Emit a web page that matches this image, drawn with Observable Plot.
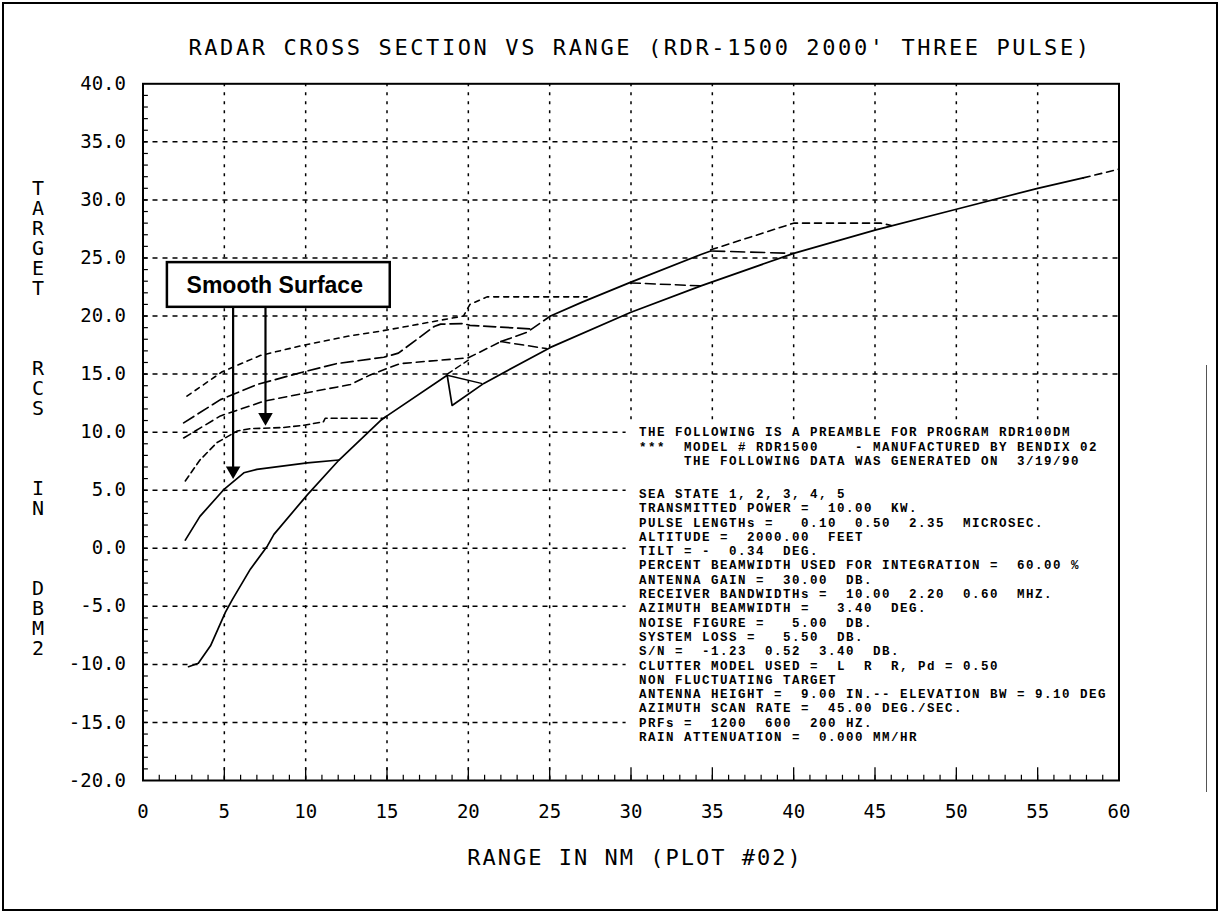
<!DOCTYPE html>
<html>
<head>
<meta charset="utf-8">
<script src="https://cdn.jsdelivr.net/npm/d3@7"></script>
<script src="https://cdn.jsdelivr.net/npm/@observablehq/plot@0.6"></script>
<style>
html,body{margin:0;padding:0;background:#fff;}
#page{position:relative;width:1220px;height:913px;overflow:hidden;background:#fff;}
#chart{position:absolute;left:0;top:0;}
#border{position:absolute;left:2px;top:2px;width:1216px;height:909px;border:2px solid #000;box-sizing:border-box;pointer-events:none;}
#scanline{position:absolute;left:1206px;top:365px;width:1px;height:427px;background:#555;}
.lbl{position:absolute;font-family:"DejaVu Sans Mono",monospace;color:#000;white-space:pre;}
#title{left:140px;width:1000px;top:35px;text-align:center;font-size:22px;letter-spacing:2.6px;}
#xlabel{left:335px;width:600px;top:845px;text-align:center;font-size:22px;letter-spacing:2px;}
#ylabel{left:28px;top:178px;width:20px;text-align:center;font-size:20px;line-height:20px;}
svg text{white-space:pre;}
.preamble text, .preamble tspan{letter-spacing:1.5px;}
</style>
</head>
<body>
<div id="page">
  <div id="chart"></div>
  <div id="title" class="lbl"></div>
  <div id="xlabel" class="lbl"></div>
  <div id="ylabel" class="lbl"></div>
  <div id="scanline"></div>
  <div id="border"></div>
</div>
<script>
// ---------- texts ----------
const titleText = "RADAR CROSS SECTION VS RANGE (RDR-1500 2000' THREE PULSE)";
const xTitle = "RANGE IN NM (PLOT #02)";
const yTitleWords = ["TARGET", "RCS", "IN", "DBM2"];
const annotationText = "Smooth Surface";
const preambleHead = [
  "THE FOLLOWING IS A PREAMBLE FOR PROGRAM RDR100DM",
  "***  MODEL # RDR1500    - MANUFACTURED BY BENDIX 02",
  "     THE FOLLOWING DATA WAS GENERATED ON  3/19/90"
];
const preambleBody = [
  "SEA STATE 1, 2, 3, 4, 5",
  "TRANSMITTED POWER =  10.00  KW.",
  "PULSE LENGTHs =   0.10  0.50  2.35  MICROSEC.",
  "ALTITUDE =  2000.00  FEET",
  "TILT = -  0.34  DEG.",
  "PERCENT BEAMWIDTH USED FOR INTEGRATION =  60.00 %",
  "ANTENNA GAIN =  30.00  DB.",
  "RECEIVER BANDWIDTHs =  10.00  2.20  0.60  MHZ.",
  "AZIMUTH BEAMWIDTH =   3.40  DEG.",
  "NOISE FIGURE =   5.00  DB.",
  "SYSTEM LOSS =   5.50  DB.",
  "S/N =  -1.23  0.52  3.40  DB.",
  "CLUTTER MODEL USED =  L  R  R, Pd = 0.50",
  "NON FLUCTUATING TARGET",
  "ANTENNA HEIGHT =  9.00 IN.-- ELEVATION BW = 9.10 DEG",
  "AZIMUTH SCAN RATE =  45.00 DEG./SEC.",
  "PRFs =  1200  600  200 HZ.",
  "RAIN ATTENUATION =  0.000 MM/HR"
];

// ---------- ticks ----------
const xTicks = [0, 5, 10, 15, 20, 25, 30, 35, 40, 45, 50, 55, 60];
const yTicks = [-20, -15, -10, -5, 0, 5, 10, 15, 20, 25, 30, 35, 40];

// ---------- curve values (range NM, RCS dBm2) ----------
const rangeA = [2.8, 3.4, 4.15, 5.07, 5.5, 6.6, 7.65, 8.05, 10.1, 12.05, 14.6, 15.0, 18.7, 19.0, 20.95, 25.05, 29.96, 34.3, 40.0, 45.0, 50.0, 55.0, 57.8];
const rcsA   = [-10.2, -9.9, -8.4, -5.5, -4.4, -1.8, 0.2, 1.2, 4.6, 7.6, 11.0, 11.4, 14.9, 12.3, 14.2, 17.3, 20.3, 22.6, 25.4, 27.4, 29.2, 31.0, 31.9];
const rangeATail = [57.8, 60.0];
const rcsATail   = [31.9, 32.65];
const rangeB = [2.6, 3.5, 5.0, 6.2, 7.0, 10.1, 12.05];
const rcsB   = [0.7, 2.75, 5.1, 6.5, 6.8, 7.35, 7.6];
const rangeC = [2.6, 3.5, 4.55, 5.8, 6.6, 8.65, 9.9, 11.1, 11.2, 14.8, 15.0];
const rcsC   = [5.8, 7.6, 9.1, 10.1, 10.3, 10.4, 10.6, 10.9, 11.2, 11.2, 11.4];
const rangeE = [2.7, 4.87, 7.2, 9.9, 12.75, 14.6, 15.8, 19.7, 20.1, 21.15, 27.3];
const rcsE   = [13.1, 15.2, 16.6, 17.5, 18.3, 18.7, 19.0, 20.0, 21.0, 21.65, 21.65];
const rangeF = [2.5, 4.76, 7.0, 9.9, 11.9, 14.8, 15.7, 17.9, 18.3, 19.7, 20.1, 23.8];
const rcsF   = [10.8, 12.8, 14.1, 15.2, 15.9, 16.45, 16.8, 19.1, 19.3, 19.35, 19.2, 18.9];
const rangeH = [2.5, 4.76, 7.4, 9.9, 12.75, 14.0, 15.8, 18.3, 20.0, 22.0];
const rcsH   = [9.5, 11.4, 12.65, 13.35, 14.1, 14.95, 15.9, 16.2, 16.4, 17.8];
const rangeHDrop = [22.0, 24.8];
const rcsHDrop   = [17.8, 17.2];
const rangeGDash = [22.0, 23.6, 25.05];
const rcsGDash   = [17.8, 18.6, 20.0];
const rangeG = [25.05, 27.0, 29.96, 34.3, 34.9];
const rcsG   = [20.0, 21.2, 22.9, 25.3, 25.6];
const rangeG23 = [29.96, 34.3];
const rcsG23   = [22.85, 22.6];
const rangeG25 = [34.9, 40.0];
const rcsG25   = [25.6, 25.4];
const rangeG28 = [34.9, 40.0, 45.35, 46.0];
const rcsG28   = [25.7, 28.0, 28.0, 27.8];
const rangeTriTop = [18.7, 20.8];
const rcsTriTop   = [14.9, 14.2];
const rangeTriUp = [18.7, 20.0];
const rcsTriUp   = [15.0, 16.2];

// ---------- annotation (data coordinates) ----------
const boxRange = [1.5, 15.2];
const boxRcs = [20.75, 24.6];
const labelRange = 8.1;
const labelRcs = 22.65;
const arrowRange = [5.54, 7.53];
const arrowTipRcs = [6.0, 10.6];
const preambleArea = {x1: 29.7, x2: 60, y1: -20, y2: 11.0};

// ---------- styles (kept separate from values) ----------
const curveDefs = [
  {r: rangeA, v: rcsA, dash: null, w: 1.7},
  {r: rangeATail, v: rcsATail, dash: "7,5", w: 1.6},
  {r: rangeB, v: rcsB, dash: null, w: 1.7},
  {r: rangeC, v: rcsC, dash: "6,4", w: 1.6},
  {r: rangeE, v: rcsE, dash: "5,5", w: 1.6},
  {r: rangeF, v: rcsF, dash: "12,5", w: 1.7},
  {r: rangeH, v: rcsH, dash: "8,5", w: 1.6},
  {r: rangeHDrop, v: rcsHDrop, dash: "9,5", w: 1.5},
  {r: rangeGDash, v: rcsGDash, dash: "11,5", w: 1.6},
  {r: rangeG, v: rcsG, dash: null, w: 1.7},
  {r: rangeG23, v: rcsG23, dash: "10,5", w: 1.5},
  {r: rangeG25, v: rcsG25, dash: "14,6", w: 1.6},
  {r: rangeG28, v: rcsG28, dash: "7,5", w: 1.6},
  {r: rangeTriTop, v: rcsTriTop, dash: null, w: 1.5},
  {r: rangeTriUp, v: rcsTriUp, dash: "6,4", w: 1.4}
];

document.getElementById("title").textContent = titleText;
document.getElementById("xlabel").textContent = xTitle;
document.getElementById("ylabel").textContent =
  yTitleWords.map(w => w.split("").join("\n")).join("\n\n\n\n");

const gridX = xTicks.filter(d => d > xTicks[0] && d < xTicks[xTicks.length - 1]);
const gridY = yTicks.filter(d => d > yTicks[0] && d < yTicks[yTicks.length - 1]);
const minorX = d3.range(xTicks[0] + 1, xTicks[xTicks.length - 1]);
const minorY = d3.range(yTicks[0] + 1, yTicks[yTicks.length - 1]);

const toRows = (r, v) => r.map((x, i) => ({x, y: v[i]}));
const arrows = arrowRange.map((x, i) => ({x, tip: arrowTipRcs[i]}));
const preambleFont = {fontFamily: "Liberation Mono, Courier New, monospace", fontWeight: "bold", fontSize: 12.5, fill: "#000",
  textAnchor: "start", lineAnchor: "top", frameAnchor: "top-left", className: "preamble"};

const marks = [
  Plot.ruleX(gridX, {stroke: "#000", strokeWidth: 1.5, strokeDasharray: "3,6"}),
  Plot.ruleY(gridY, {stroke: "#000", strokeWidth: 1.5, strokeDasharray: "5,5"}),
  Plot.rect([preambleArea], {x1: "x1", x2: "x2", y1: "y1", y2: "y2", fill: "#fff"}),
  Plot.ruleX(minorX, {y1: -20, y2: -19.55, stroke: "#000", strokeWidth: 1.2}),
  Plot.ruleX(gridX, {y1: -20, y2: -18.9, stroke: "#000", strokeWidth: 1.3}),
  Plot.ruleY(minorY, {x1: 0, x2: 0.33, stroke: "#000", strokeWidth: 1.2}),
  ...curveDefs.map(c => Plot.line(toRows(c.r, c.v), {
    x: "x", y: "y", stroke: "#000", strokeWidth: c.w,
    strokeDasharray: c.dash == null ? undefined : c.dash
  })),
  Plot.rect([{x1: boxRange[0], x2: boxRange[1], y1: boxRcs[0], y2: boxRcs[1]}],
    {x1: "x1", x2: "x2", y1: "y1", y2: "y2", fill: "#fff", stroke: "#000", strokeWidth: 2.5}),
  Plot.text([annotationText], {x: labelRange, y: labelRcs, text: d => d,
    fontFamily: "Liberation Sans, Arial, sans-serif", fontWeight: "bold", fontSize: 23, fill: "#000"}),
  Plot.link(arrows, {x1: "x", x2: "x", y1: () => boxRcs[0], y2: d => d.tip + 1.0, stroke: "#000", strokeWidth: 2.2}),
  Plot.dot(arrows, {x: "x", y: d => d.tip + 0.68, symbol: "triangle", rotate: 180, r: 5.4, fill: "#000", stroke: "none"}),
  Plot.text([preambleHead.join("\n")], {...preambleFont, text: d => d, dx: 496, dy: 342, lineHeight: 1.16}),
  Plot.text([preambleBody.join("\n")], {...preambleFont, text: d => d, dx: 496, dy: 404, lineHeight: 1.144}),
  Plot.frame({stroke: "#000", strokeWidth: 2})
];

const chart = Plot.plot({
  width: 1220,
  height: 913,
  marginLeft: 142.5,
  marginRight: 101.5,
  marginTop: 83.3,
  marginBottom: 133,
  x: {domain: [xTicks[0], xTicks[xTicks.length - 1]], ticks: xTicks, tickFormat: d => String(d), tickSize: 0, tickPadding: 24, label: null},
  y: {domain: [yTicks[0], yTicks[yTicks.length - 1]], ticks: yTicks, tickFormat: d => d.toFixed(1), tickSize: 0, tickPadding: 17, label: null},
  style: {fontFamily: "DejaVu Sans Mono, monospace", fontSize: "19px", color: "#000", background: "transparent"},
  marks
});
document.getElementById("chart").appendChild(chart);
</script>
</body>
</html>
